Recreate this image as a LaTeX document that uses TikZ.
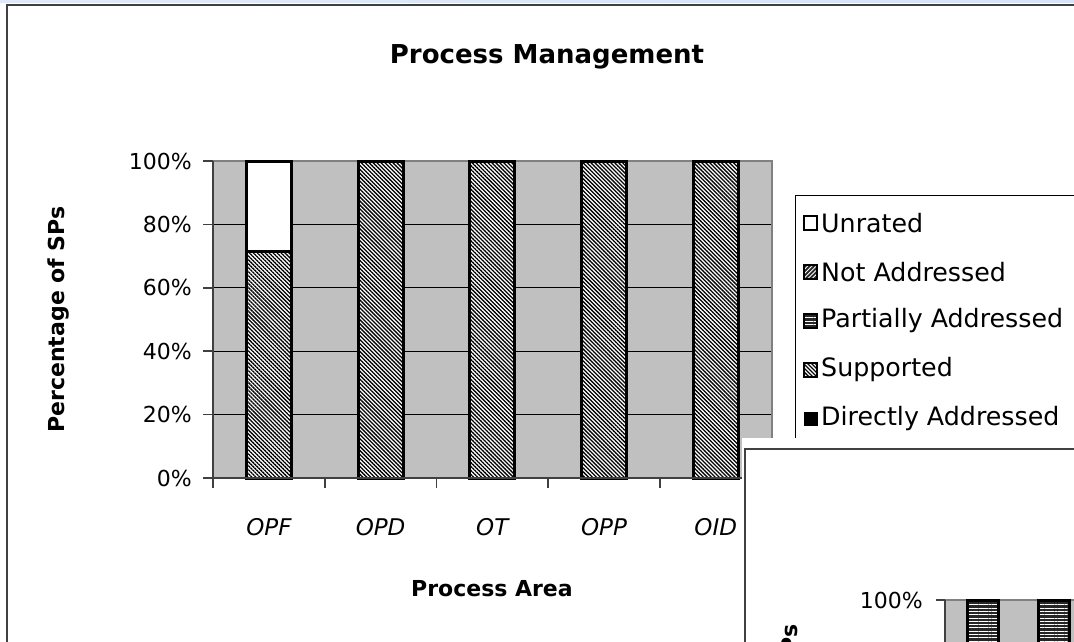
\documentclass[tikz,border=0pt]{standalone}
\usepackage{fontspec}
\setmainfont{DejaVu Sans}
\usetikzlibrary{patterns.meta}

\definecolor{plotgray}{RGB}{192,192,192}
\definecolor{edgegray}{RGB}{128,128,128}
\definecolor{framegray}{RGB}{64,64,64}
\definecolor{slideblue}{RGB}{48,110,210}

\tikzset{
  bar/.style={draw=black, line width=3pt},
  supported/.style={preaction={fill=white}, pattern={Lines[angle=-45,distance=2.8pt,line width=1.3pt]}, pattern color=black},
  notaddr/.style={preaction={fill=black!85}, pattern={Lines[angle=45,distance=3pt,line width=0.9pt]}, pattern color=white},
  partial/.style={preaction={fill=black!85}, pattern={Lines[angle=0,distance=3.3pt,line width=0.8pt]}, pattern color=white},
  grid/.style={draw=black, line width=1pt},
  axis/.style={draw=framegray, line width=1.6pt},
  ticklab/.style={inner sep=0pt, anchor=east, font=\fontsize{22}{24}\selectfont},
  catlab/.style={inner sep=0pt, font=\fontsize{23}{25}\selectfont\itshape},
  keylab/.style={inner sep=0pt, anchor=west, font=\fontsize{25.3}{27}\selectfont},
  axlab/.style={inner sep=0pt, font=\fontsize{22}{24}\selectfont\bfseries}
}

\begin{document}
\begin{tikzpicture}[x=1pt, y=-1pt]
\useasboundingbox (0,0) rectangle (1074,641);
\clip (0,0) rectangle (1074,641);

% slide edge and chart frame
\shade[left color=slideblue!15, middle color=slideblue, right color=slideblue!20] (0,0) rectangle (1074,2);
\draw[draw=framegray, line width=1.8pt] (7,645) -- (7,5) -- (1080,5);

\coordinate (PA) at (213,161);
\coordinate (PB) at (771.5,478);

% plot area
\fill[plotgray] (PA) rectangle (PB);
\draw[grid] (213,224.4) -- (771.5,224.4);
\draw[grid] (213,287.8) -- (771.5,287.8);
\draw[grid] (213,351.2) -- (771.5,351.2);
\draw[grid] (213,414.6) -- (771.5,414.6);
\draw[draw=edgegray, line width=2pt] (PA) -- (771.5,161) -- (PB);

% bars
\draw[bar, fill=white] (246.4,161) rectangle (291.4,251.6);
\draw[bar, supported] (246.4,251.6) rectangle (291.4,478);
\draw[bar, supported] (358.1,161) rectangle (403.1,478);
\draw[bar, supported] (469.8,161) rectangle (514.8,478);
\draw[bar, supported] (581.5,161) rectangle (626.5,478);
\draw[bar, supported] (693.2,161) rectangle (738.2,478);

% axes
\draw[axis] (PA) -- (213,478) -- (PB);
\draw[axis] (203,161) -- (213,161);
\draw[axis] (203,224.4) -- (213,224.4);
\draw[axis] (203,287.8) -- (213,287.8);
\draw[axis] (203,351.2) -- (213,351.2);
\draw[axis] (203,414.6) -- (213,414.6);
\draw[axis] (203,478) -- (213,478);
\draw[axis] (213,478) -- (213,488);
\draw[axis] (324.7,478) -- (324.7,488);
\draw[axis] (436.4,478) -- (436.4,488);
\draw[axis] (548.1,478) -- (548.1,488);
\draw[axis] (659.8,478) -- (659.8,488);

% labels
\node[font=\fontsize{26}{28}\selectfont\bfseries] (title) at (547,57) {Process Management};
\node[axlab, rotate=90] (ylab) at (59,319.5) {Percentage of SPs};
\node[axlab] (xlab) at (492,589) {Process Area};

\node[ticklab] (t100) at (192,161) {100\%};
\node[ticklab] (t80) at (192,224.4) {80\%};
\node[ticklab] (t60) at (192,287.8) {60\%};
\node[ticklab] (t40) at (192,351.2) {40\%};
\node[ticklab] (t20) at (192,414.6) {20\%};
\node[ticklab] (t0) at (192,478) {0\%};

\node[catlab] (opf) at (268.9,527) {OPF};
\node[catlab] (opd) at (380.6,527) {OPD};
\node[catlab] (ot) at (492.3,527) {OT};
\node[catlab] (opp) at (604,527) {OPP};
\node[catlab] (oid) at (715.7,527) {OID};

% legend
\draw[draw=black, line width=1pt] (795,195) rectangle (1090,450);
\draw[draw=black, line width=1.2pt, fill=white] (804,216) rectangle (817,230);
\draw[draw=black, line width=1.2pt, notaddr] (804,265) rectangle (817,279);
\draw[draw=black, line width=1.6pt, partial] (804,314) rectangle (817,328);
\draw[draw=black, line width=1.6pt, supported] (804,363) rectangle (817,377);
\fill[black] (803.5,412) rectangle (817.5,426);
\node[keylab] (kun) at (821,223) {Unrated};
\node[keylab] (kna) at (821,272) {Not Addressed};
\node[keylab] (kpa) at (821,321) {Partially Addressed};
\node[keylab] (ksu) at (821,370) {Supported};
\node[keylab] (kda) at (821,419) {Directly Addressed};

% second chart lying over the first
\fill[white] (742,438) rectangle (1090,660);
\draw[draw=framegray, line width=1.5pt] (745,660) -- (745,449) -- (1090,449);
\fill[plotgray] (945,600) rectangle (1090,660);
\draw[draw=edgegray, line width=2pt] (945,600) -- (1090,600);
\draw[bar, partial] (967.5,600) rectangle (998,660);
\draw[bar, partial] (1038.5,600) rectangle (1069.5,660);
\draw[axis] (945,600) -- (945,660);
\draw[axis] (936,600) -- (945,600);
\node[ticklab] (s100) at (923,600) {100\%};
\node[axlab, rotate=90, anchor=east] (s2ylab) at (792,624) {Percentage of SPs};
\end{tikzpicture}
\end{document}
